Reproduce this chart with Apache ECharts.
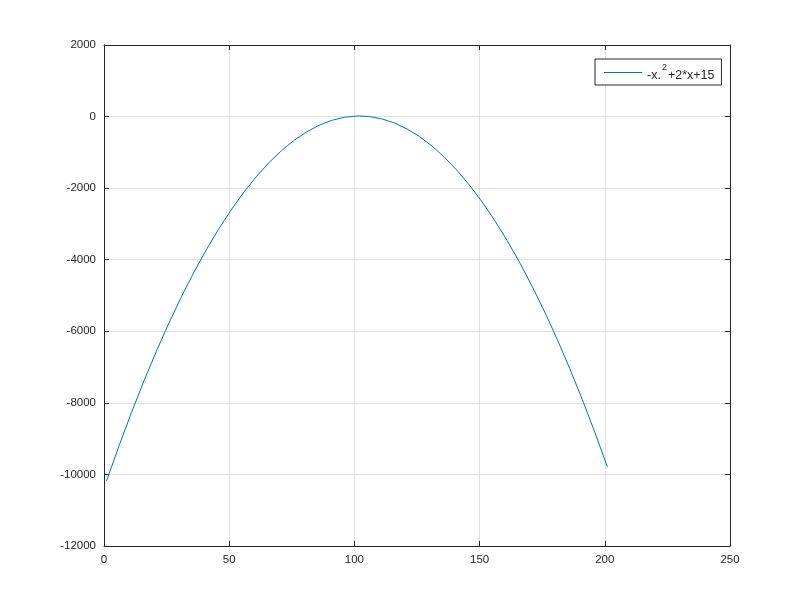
<!DOCTYPE html>
<html>
<head>
<meta charset="utf-8">
<script src="https://cdn.jsdelivr.net/npm/echarts@6/dist/echarts.min.js"></script>
<style>html,body{margin:0;padding:0;background:#fff;}#c{width:807px;height:613px;}</style>
</head>
<body>
<div id="c"></div>
<script>
// index (x) values and the curve values
var xIndex = [1,6,11,16,21,26,31,36,41,46,51,56,61,66,71,76,81,86,91,96,101,102,106,111,116,121,126,131,136,141,146,151,156,161,166,171,176,181,186,191,196,201];
var yValues = [-10185,-9200,-8265,-7380,-6545,-5760,-5025,-4340,-3705,-3120,-2585,-2100,-1665,-1280,-945,-660,-425,-240,-105,-20,15,16,0,-65,-180,-345,-560,-825,-1140,-1505,-1920,-2385,-2900,-3465,-4080,-4745,-5460,-6225,-7040,-7905,-8820,-9785];
var seriesName = '-x.^2+2*x+15';
var xTicks = {min: 0, max: 250, step: 50};
var yTicks = {min: -12000, max: 2000, step: 2000};

var pts = xIndex.map(function (x, i) { return [x, yValues[i]]; });
var axisColor = '#262626';
var gridColor = '#e0e0e0';
var lineColor = '#0072BD';
var font = 'Liberation Sans, Arial, sans-serif';
function plain(v) { return String(v); }

function xAx(pos, labels) {
  return {
    type: 'value', position: pos, min: xTicks.min, max: xTicks.max, interval: xTicks.step,
    axisLine: {show: true, onZero: false, lineStyle: {color: axisColor, width: 1}},
    axisTick: {show: true, inside: true, length: 5, lineStyle: {color: axisColor}},
    axisLabel: {show: labels, color: axisColor, fontFamily: font, fontSize: 11.5, margin: 8, formatter: plain},
    splitLine: {show: labels, lineStyle: {color: gridColor, width: 1}}
  };
}
function yAx(pos, labels) {
  return {
    type: 'value', position: pos, min: yTicks.min, max: yTicks.max, interval: yTicks.step,
    axisLine: {show: true, onZero: false, lineStyle: {color: axisColor, width: 1}},
    axisTick: {show: true, inside: true, length: 5, lineStyle: {color: axisColor}},
    axisLabel: {show: labels, color: axisColor, fontFamily: font, fontSize: 11.5, margin: 8, formatter: plain},
    splitLine: {show: labels, lineStyle: {color: gridColor, width: 1}}
  };
}

var chart = echarts.init(document.getElementById('c'), null, {renderer: 'canvas'});
chart.setOption({
  animation: false,
  backgroundColor: '#ffffff',
  grid: {left: 104, right: 77, top: 45, bottom: 67, containLabel: false},
  xAxis: [xAx('bottom', true), xAx('top', false)],
  yAxis: [yAx('left', true), yAx('right', false)],
  legend: {
    left: 595, top: 59,
    orient: 'vertical',
    padding: [4, 7, 3, 9],
    borderColor: axisColor, borderWidth: 1,
    backgroundColor: '#ffffff',
    icon: 'rect', itemWidth: 38, itemHeight: 1,
    itemGap: 0,
    itemStyle: {color: lineColor},
    textStyle: {
      color: axisColor, fontFamily: font, fontSize: 12,
      rich: {
        base: {fontFamily: font, fontSize: 12.5, color: axisColor, verticalAlign: 'bottom', lineHeight: 19},
        sup: {fontFamily: font, fontSize: 9, color: axisColor, verticalAlign: 'top', lineHeight: 9, padding: [0, 1, 0, 1]}
      }
    },
    formatter: function () { return '{base|-x.}{sup|2}{base|+2*x+15}'; },
    data: [seriesName]
  },
  series: [{
    name: seriesName, type: 'line', xAxisIndex: 0, yAxisIndex: 0,
    data: pts, showSymbol: false, symbol: 'none', smooth: false,
    lineStyle: {color: lineColor, width: 1},
    itemStyle: {color: lineColor}
  }]
});
</script>
</body>
</html>
